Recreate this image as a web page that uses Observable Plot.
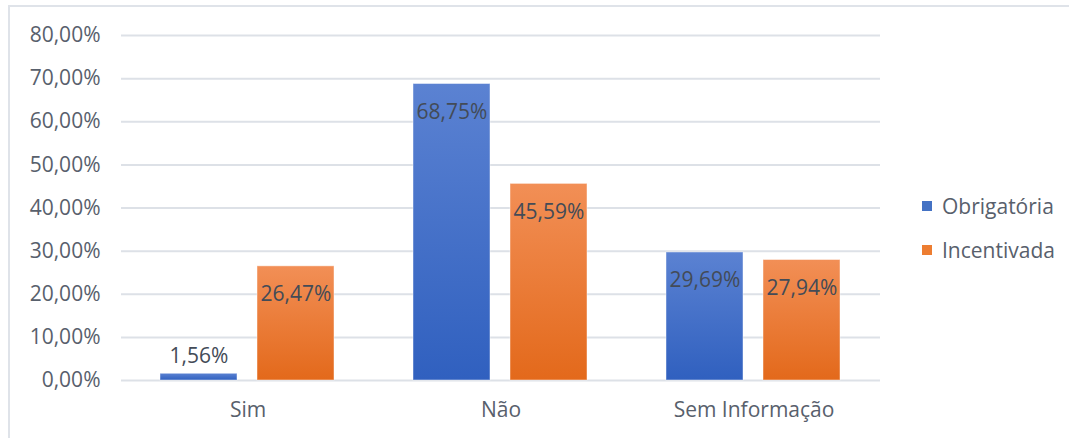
<!DOCTYPE html>
<html>
<head>
<meta charset="utf-8">
<script src="https://cdn.jsdelivr.net/npm/d3@7"></script>
<script src="https://cdn.jsdelivr.net/npm/@observablehq/plot@0.6"></script>
<style>
  html, body { margin: 0; padding: 0; background: #fff; }
  body { width: 1069px; height: 438px; position: relative; overflow: hidden; font-family: "Open Sans", sans-serif; }
  #frame { position: absolute; left: 8px; top: 5px; width: 1100px; height: 500px; border-top: 2px solid #dfe3e9; border-left: 2px solid #dfe3e9; }
  #chart { position: absolute; left: 0; top: 0; }
  #legend { position: absolute; left: 922px; top: 184px; font-size: 21px; color: #58606c; }
  .item { display: flex; align-items: center; height: 44px; }
  .sw { width: 10px; height: 10px; margin-right: 10px; }
</style>
</head>
<body>
<div id="frame"></div>
<div id="chart"></div>
<div id="legend"></div>
<script>
const categories = ["Sim", "Não", "Sem Informação"];
const series = ["Obrigatória", "Incentivada"];
const obrigatoria = [1.56, 68.75, 29.69];
const incentivada = [26.47, 45.59, 27.94];
const yTicks = [0, 10, 20, 30, 40, 50, 60, 70, 80];
const seriesColors = ["#4472C4", "#ED7D31"];

const data = [];
categories.forEach((c, i) => {
  data.push({category: c, series: series[0], value: obrigatoria[i]});
  data.push({category: c, series: series[1], value: incentivada[i]});
});

const fmt = v => v.toFixed(2).replace(".", ",") + "%";

const defs = () => {
  const d = d3.create("svg:defs");
  const mk = (id, top, bottom) => {
    const g = d.append("linearGradient").attr("id", id).attr("x1", 0).attr("y1", 0).attr("x2", 0).attr("y2", 1);
    g.append("stop").attr("offset", "0%").attr("stop-color", top);
    g.append("stop").attr("offset", "100%").attr("stop-color", bottom);
  };
  mk("gradBlue", "#5b82d2", "#3060bf");
  mk("gradOrange", "#f28f56", "#e3691b");
  return d.node();
};

const chart = Plot.plot({
  width: 1069,
  height: 438,
  marginLeft: 120,
  marginRight: 189,
  marginTop: 35,
  marginBottom: 58,
  style: {fontFamily: "Open Sans", fontSize: "21px", color: "#58606c", background: "transparent"},
  fx: {domain: categories, padding: 0, label: null},
  x: {domain: series, paddingInner: 0.204, paddingOuter: 0.393, axis: null},
  y: {domain: [0, 80], label: null},
  color: {domain: series, range: ["url(#gradBlue)", "url(#gradOrange)"]},
  marks: [
    defs,
    Plot.gridY(yTicks, {stroke: "#dde1e7", strokeOpacity: 1, strokeWidth: 2}),
    Plot.axisY(yTicks, {tickSize: 0, tickPadding: 21, tickFormat: fmt, label: null, fill: "#58606c"}),
    Plot.axisFx({anchor: "bottom", tickSize: 0, tickPadding: 22, label: null, fill: "#58606c"}),
    Plot.barY(data, {fx: "category", x: "series", y: "value", fill: "series", stroke: "#ffffff", strokeOpacity: 0.45, strokeWidth: 1}),
    Plot.text(data.filter(d => d.value >= 5), {fx: "category", x: "series", y: "value", text: d => fmt(d.value), dy: 28, fill: "#434b57", fontSize: 21}),
    Plot.text(data.filter(d => d.value < 5), {fx: "category", x: "series", y: "value", text: d => fmt(d.value), dy: -18, fill: "#434b57", fontSize: 21})
  ]
});
document.getElementById("chart").appendChild(chart);

const legend = document.getElementById("legend");
series.forEach((s, i) => {
  const it = document.createElement("div");
  it.className = "item";
  const sw = document.createElement("span");
  sw.className = "sw";
  sw.style.background = seriesColors[i];
  const t = document.createElement("span");
  t.textContent = s;
  it.appendChild(sw);
  it.appendChild(t);
  legend.appendChild(it);
});
</script>
</body>
</html>
